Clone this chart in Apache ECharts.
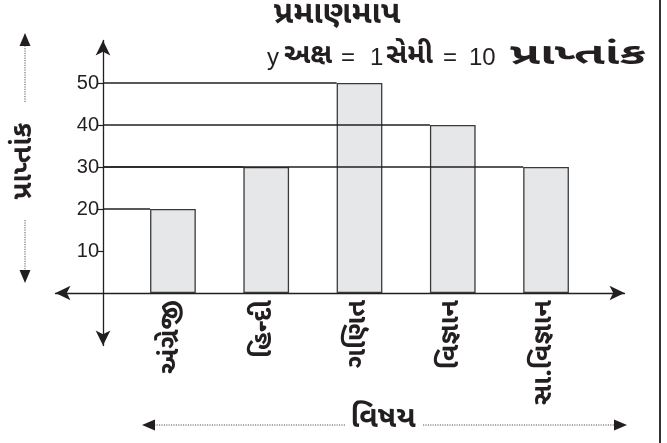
<!DOCTYPE html>
<html><head><meta charset="utf-8">
<script src="https://cdn.jsdelivr.net/npm/echarts@6/dist/echarts.min.js"></script>
<style>html,body{margin:0;padding:0;background:#fff}#c{width:667px;height:443px}</style>
</head><body><div id="c"></div>
<script>
const categories = ['અંગ્રેજી', 'હિન્દી', 'ગણિત', 'વિજ્ઞાન', 'સા.વિજ્ઞાન'];
const scores = [20, 30, 50, 40, 30];
const yTicks = [10, 20, 30, 40, 50];
const titleText = 'પ્રમાણમાપ';
const scaleText = 'y અક્ષ = 1 સેમી = 10 પ્રાપ્તાંક';
const yName = 'પ્રાપ્તાંક';
const xName = 'વિષય';

const GUJ = '"Noto Sans Gujarati","Noto Serif Gujarati","Lohit Gujarati","Noto Sans",sans-serif';
const LAT = '"Liberation Sans",Arial,sans-serif';
const INK = '#231f20';
const Y_OFFSET = 23.3;
const BAR_FRAC = 0.49;

const chart = echarts.init(document.getElementById('c'), null, {renderer: 'canvas'});

function dottedArrow(x1, y1, x2, y2) {
  const dx = x2 - x1, dy = y2 - y1, L = Math.hypot(dx, dy);
  const ux = dx / L, uy = dy / L, px = -uy, py = ux;
  const ah = 13, aw = 5.5;
  const bx = x2 - ux * ah, by = y2 - uy * ah;
  return [
    {type: 'line', shape: {x1, y1, x2: bx, y2: by}, style: {stroke: '#555', lineWidth: 1, lineDash: [1.2, 1.2]}},
    {type: 'polygon', shape: {points: [[x2, y2], [bx + px * aw, by + py * aw], [bx - px * aw, by - py * aw]]}, style: {fill: INK}}
  ];
}

// scale text split into words, each placed at its own spot
const scaleParts = scaleText.split(' ');
const partLeft = [267, 284, 341, 370, 386, 443, 469, 510];
const partScaleX = [1, 1, 1, 1, 1, 1, 1, 1.65];
const partSize = [24, 28, 24, 24, 28, 24, 24, 30];
const subGraphics = scaleParts.map((p, i) => {
  const isGuj = /[\u0A80-\u0AFF]/.test(p);
  return {
    type: 'text', x: partLeft[i], y: 58, scaleX: partScaleX[i],
    style: {
      text: p, fill: INK, align: 'left', verticalAlign: 'middle',
      font: isGuj ? ('bold ' + partSize[i] + 'px ' + GUJ) : (partSize[i] + 'px ' + LAT)
    }
  };
});

const option = {
  backgroundColor: '#fff',
  animation: false,
  grid: [
    {left: 126.3, right: 74.3, top: 83, bottom: 150},
    {left: 103, width: 1, top: 40.5, bottom: 97.5},
    {left: 55.5, right: 42.5, top: 83, bottom: 150}
  ],
  xAxis: [
    {gridIndex: 0, type: 'category', data: categories, boundaryGap: true,
     axisLine: {show: false}, axisTick: {show: false}, splitLine: {show: false},
     axisLabel: {rotate: 90, margin: 7, fontFamily: GUJ, fontWeight: 'bold', fontSize: 27, color: INK}},
    {gridIndex: 1, type: 'value', show: false},
    {gridIndex: 2, type: 'value', min: 0, max: 1, position: 'bottom',
     axisLine: {show: true, onZero: false, symbol: ['arrow', 'arrow'], symbolSize: [11, 15], lineStyle: {color: INK, width: 1.3}},
     axisTick: {show: false}, axisLabel: {show: false}, splitLine: {show: false}}
  ],
  yAxis: [
    {gridIndex: 0, type: 'value', min: 0, max: 50, interval: 10, offset: Y_OFFSET,
     axisLine: {show: false}, splitLine: {show: false},
     axisTick: {show: true, length: 5, customValues: yTicks, lineStyle: {color: INK, width: 1.2}},
     axisLabel: {customValues: yTicks, margin: 4, fontFamily: LAT, fontSize: 20, color: INK}},
    {gridIndex: 1, type: 'value', min: 0, max: 1,
     axisLine: {show: true, onZero: false, symbol: ['arrow', 'arrow'], symbolSize: [11, 15], lineStyle: {color: INK, width: 1.3}},
     axisTick: {show: false}, axisLabel: {show: false}, splitLine: {show: false}},
    {gridIndex: 2, type: 'value', show: false}
  ],
  series: [
    {type: 'bar', xAxisIndex: 0, yAxisIndex: 0, data: scores, barWidth: (BAR_FRAC * 100) + '%',
     itemStyle: {color: '#e6e7e8', borderColor: '#3a3a3a', borderWidth: 1.3}, z: 2},
    {type: 'custom', xAxisIndex: 0, yAxisIndex: 0, z: 5,
     data: scores.map((v, i) => [i, v]),
     encode: {x: 0, y: 1},
     renderItem: function (params, api) {
       const p = api.coord([api.value(0), api.value(1)]);
       const band = api.size([1, 0])[0];
       const left = p[0] - band * BAR_FRAC / 2;
       const axisX = params.coordSys.x - Y_OFFSET;
       return {type: 'line', shape: {x1: axisX, y1: p[1], x2: left, y2: p[1]},
               style: {stroke: INK, lineWidth: 1.3}};
     }}
  ],
  graphic: [
    {type: 'text', x: 337, y: 17, style: {text: titleText, font: 'bold 32px ' + GUJ, fill: INK, align: 'center', verticalAlign: 'middle'}},
    ...subGraphics,
    {type: 'text', x: 26, y: 161, rotation: Math.PI / 2, style: {text: yName, font: 'bold 28px ' + GUJ, fill: INK, align: 'center', verticalAlign: 'middle'}},
    {type: 'text', x: 383, y: 421, style: {text: xName, font: 'bold 30px ' + GUJ, fill: INK, align: 'center', verticalAlign: 'middle'}},
    ...dottedArrow(25, 102, 25, 33),
    ...dottedArrow(25, 220, 25, 283),
    ...dottedArrow(345, 425, 142, 425),
    ...dottedArrow(423, 425, 627, 425),
    {type: 'line', shape: {x1: 660, y1: 0, x2: 660, y2: 443}, style: {stroke: '#333', lineWidth: 2}}
  ]
};
chart.setOption(option);
</script>
</body></html>
